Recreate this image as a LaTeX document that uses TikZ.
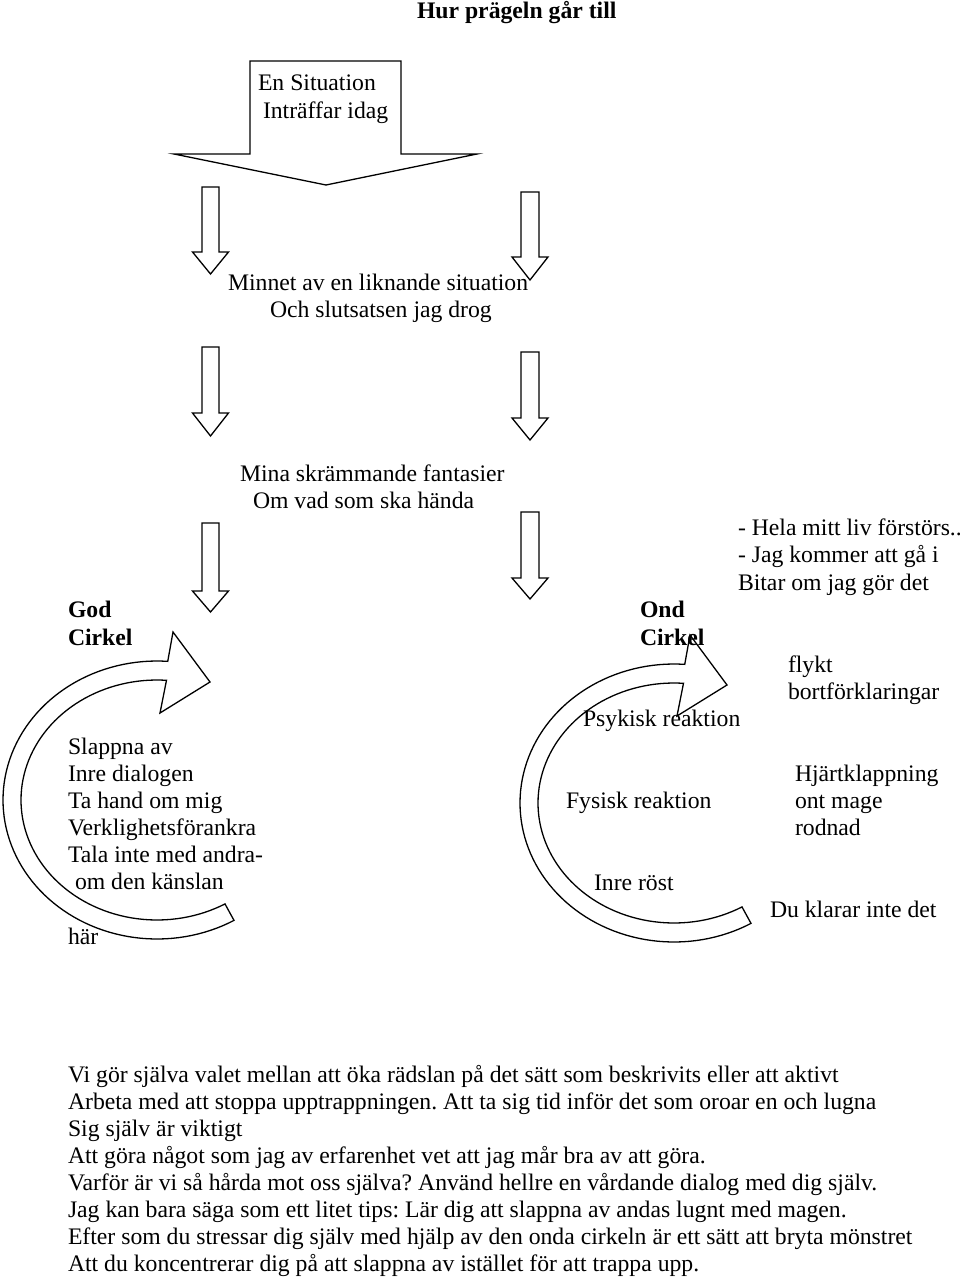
\documentclass[tikz,border=0pt]{standalone}
\usepackage{fontspec}
\setmainfont{Liberation Serif}
\frenchspacing
\newcommand\dnarrow[5]{%
  \draw[shapeline] ({#1-#5},#2) -- ({#1+#5},#2) -- ({#1+#5},#3) -- ({#1+18},#3) -- (#1,#4) -- ({#1-18},#3) -- ({#1-#5},#3) -- cycle;}
\newcommand\circarrow[2]{%
  \begin{scope}[shift={(#1,#2)}]
    \draw[shapeline] plot[domain=60:274,samples=90] ({157+154*cos(\x)},{800+139*sin(\x)})
      -- (173,632) -- (210,682) -- (160,713)
      -- plot[domain=274:60,samples=90] ({157+136*cos(\x)},{800+120*sin(\x)}) -- cycle;
  \end{scope}}
\begin{document}
\begin{tikzpicture}[x=1pt,y=-1pt,
  lbl/.style={anchor=base west,inner sep=0pt,outer sep=0pt,font=\fontsize{23.7}{27}\selectfont\frenchspacing},
  blbl/.style={lbl,font=\fontsize{23.7}{27}\selectfont\bfseries},
  shapeline/.style={draw=black,line width=1.3pt,line join=miter}]
\fill[white] (0,0) rectangle (960,1279);
\useasboundingbox (0,0) rectangle (960,1279);

% big top arrow
\draw[shapeline] (250,61) -- (401,61) -- (401,154) -- (477,154) -- (326,185) -- (174,154) -- (250,154) -- cycle;

% small down arrows
\dnarrow{210.5}{187}{252}{274}{8.5}
\dnarrow{210.5}{347}{413}{436}{8.5}
\dnarrow{210.5}{523}{591}{612}{8.5}
\dnarrow{530}{192}{257}{280}{9}
\dnarrow{530}{352}{418}{440}{9}
\dnarrow{530}{512}{578}{599}{9}

% circular arrows
\circarrow{0}{0}
\circarrow{517}{3}

% texts
\node[blbl] (title) at (417,19) {Hur prägeln går till};
\node[lbl] (s1) at (258,91) {En Situation};
\node[lbl] (s2) at (263,118) {Inträffar idag};
\node[lbl] (m1) at (228,290) {Minnet av en liknande situation};
\node[lbl] (m2) at (270,317) {Och slutsatsen jag drog};
\node[lbl] (f1) at (240,481) {Mina skrämmande fantasier};
\node[lbl] (f2) at (253,508) {Om vad som ska hända};

\node[blbl] (g1) at (68,617) {God};
\node[blbl] (g2) at (68,645) {Cirkel};
\node[lbl] (l1) at (68,754) {Slappna av};
\node[lbl] (l2) at (68,781) {Inre dialogen};
\node[lbl] (l3) at (68,808) {Ta hand om mig};
\node[lbl] (l4) at (68,835) {Verklighetsförankra};
\node[lbl] (l5) at (68,862) {Tala inte med andra-};
\node[lbl] (l6) at (75,889) {om den känslan};
\node[lbl] (l7) at (68,944) {här};

\node[blbl] (o1) at (640,617) {Ond};
\node[blbl] (o2) at (640,645) {Cirkel};
\node[lbl] (h1) at (738,535) {- Hela mitt liv förstörs..};
\node[lbl] (h2) at (738,562) {- Jag kommer att gå i};
\node[lbl] (h3) at (738,590) {Bitar om jag gör det};
\node[lbl] (k1) at (788,672) {flykt};
\node[lbl] (k2) at (788,699) {bortförklaringar};
\node[lbl] (p1) at (583,726) {Psykisk reaktion};
\node[lbl] (j1) at (795,781) {Hjärtklappning};
\node[lbl] (j2) at (795,808) {ont mage};
\node[lbl] (j3) at (795,835) {rodnad};
\node[lbl] (p2) at (566,808) {Fysisk reaktion};
\node[lbl] (p3) at (594,890) {Inre röst};
\node[lbl] (d1) at (770,917) {Du klarar inte det};

\node[lbl] (b1) at (68,1082) {Vi gör själva valet mellan att öka rädslan på det sätt som beskrivits eller att aktivt};
\node[lbl] (b2) at (68,1109) {Arbeta med att stoppa upptrappningen. Att ta sig tid inför det som oroar en och lugna};
\node[lbl] (b3) at (68,1136) {Sig själv är viktigt};
\node[lbl] (b4) at (68,1163) {Att göra något som jag av erfarenhet vet att jag mår bra av att göra.};
\node[lbl] (b5) at (68,1190) {Varför är vi så hårda mot oss själva? Använd hellre en vårdande dialog med dig själv.};
\node[lbl] (b6) at (68,1217) {Jag kan bara säga som ett litet tips: Lär dig att slappna av andas lugnt med magen.};
\node[lbl] (b7) at (68,1244) {Efter som du stressar dig själv med hjälp av den onda cirkeln är ett sätt att bryta mönstret};
\node[lbl] (b8) at (68,1271) {Att du koncentrerar dig på att slappna av istället för att trappa upp.};
\end{tikzpicture}
\end{document}
